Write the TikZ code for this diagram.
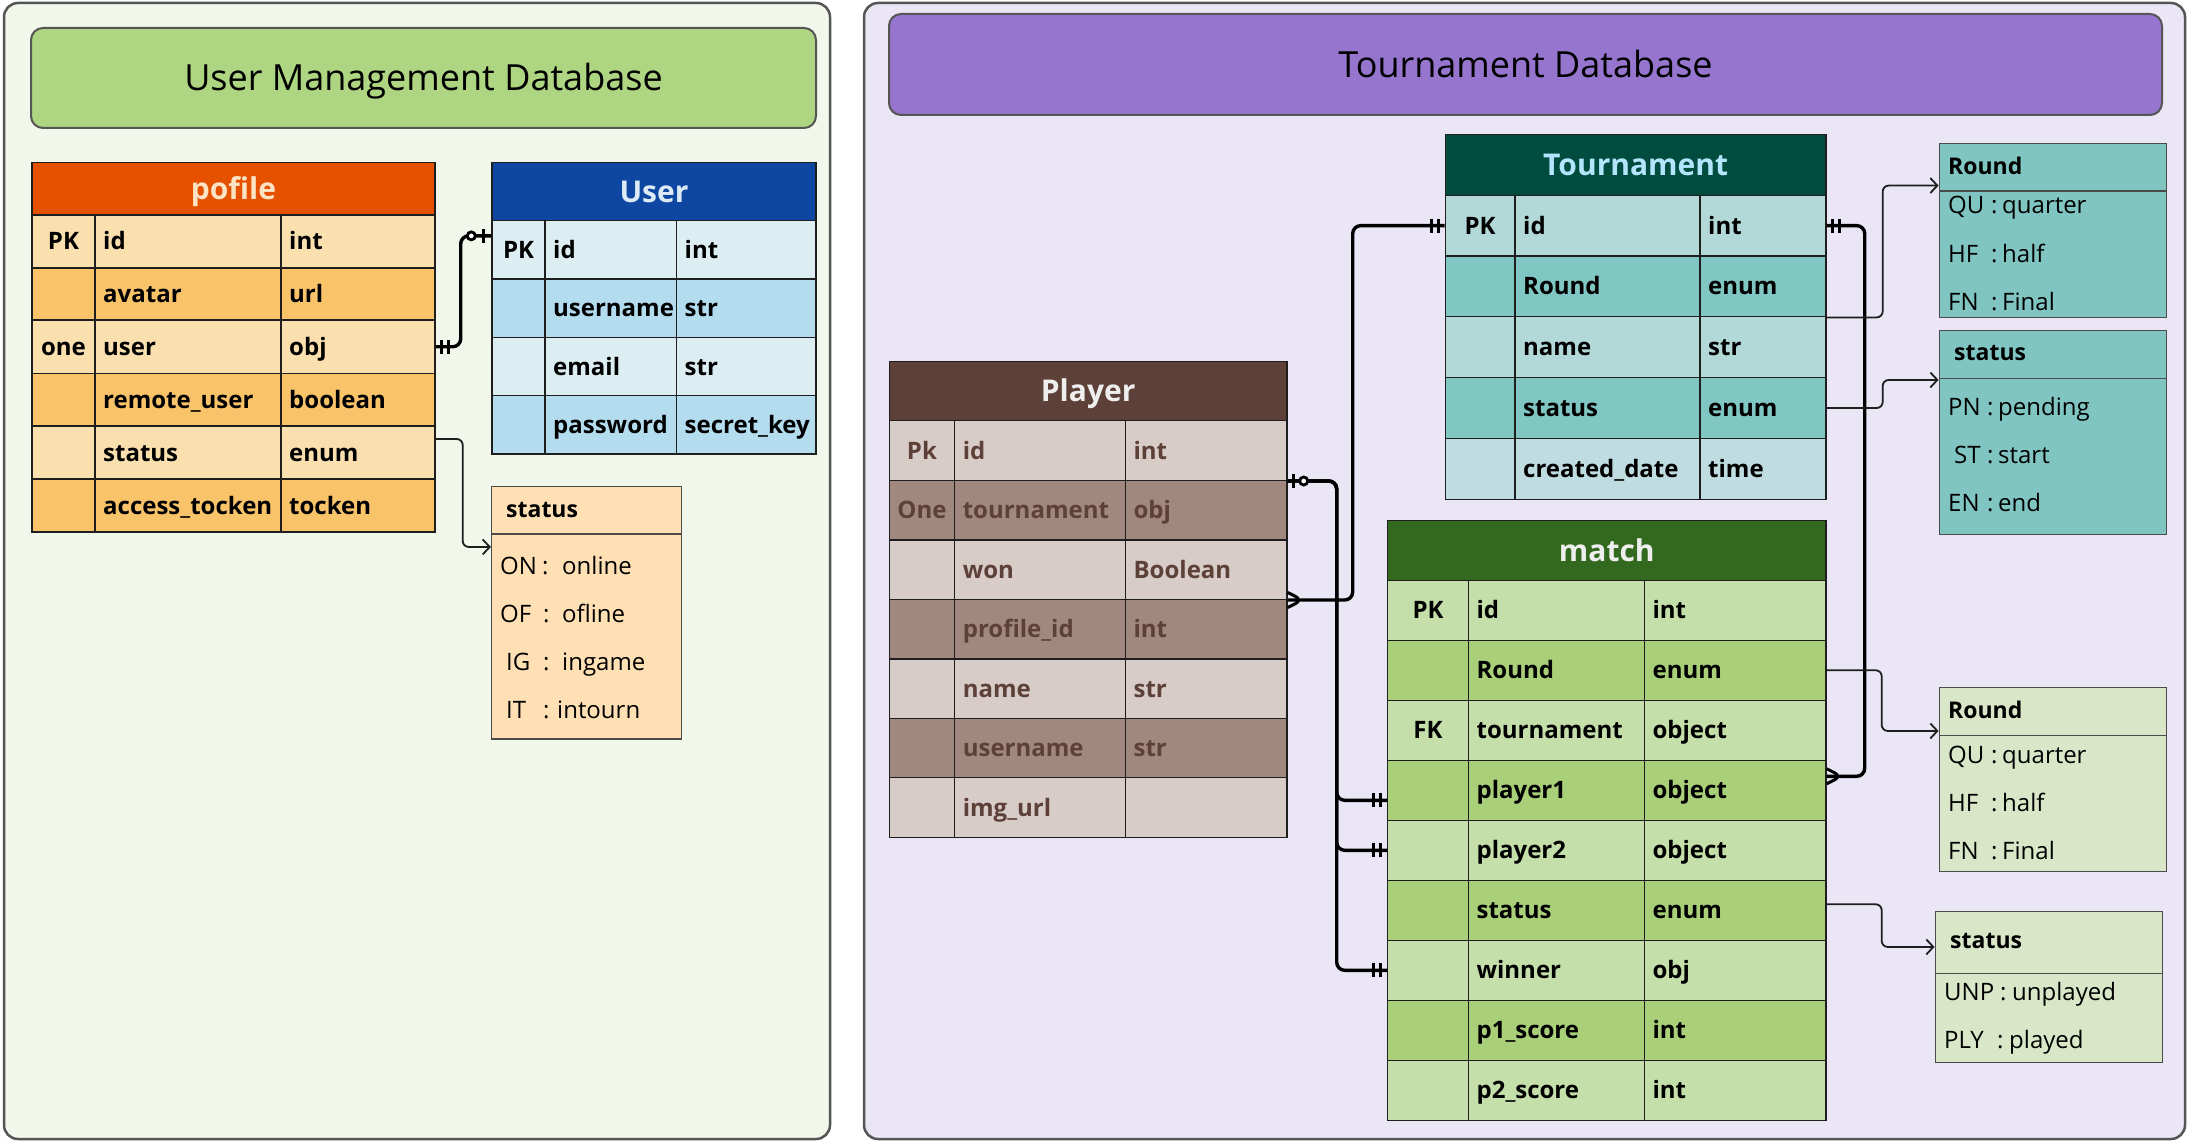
\documentclass[tikz,border=0pt]{standalone}
\usepackage{fontspec}
\setmainfont{Open Sans}
\usetikzlibrary{arrows.meta,decorations.markings,fit,calc}
\definecolor{lbg}{HTML}{F1F7EA}
\definecolor{rbg}{HTML}{EBE6F5}
\definecolor{panelline}{HTML}{555555}
\definecolor{ltitle}{HTML}{AED581}
\definecolor{rtitle}{HTML}{9575CD}
\definecolor{phead}{HTML}{E65100}
\definecolor{pheadtxt}{HTML}{FBE3C4}
\definecolor{plight}{HTML}{F9E0AE}
\definecolor{pdark}{HTML}{F9C36A}
\definecolor{uhead}{HTML}{0D47A1}
\definecolor{uheadtxt}{HTML}{DDEBF7}
\definecolor{ulight}{HTML}{DDEEF3}
\definecolor{udark}{HTML}{B3DCEF}
\definecolor{lstatf}{HTML}{FFE0B5}
\definecolor{plhead}{HTML}{5D4037}
\definecolor{pllight}{HTML}{D7CCC8}
\definecolor{pldark}{HTML}{A1887F}
\definecolor{pltext}{HTML}{5D4037}
\definecolor{thead}{HTML}{004D40}
\definecolor{theadtxt}{HTML}{B3E5FC}
\definecolor{tlight}{HTML}{B2D8D8}
\definecolor{tdark}{HTML}{80C6C2}
\definecolor{tlast}{HTML}{BFDCE0}
\definecolor{tenum}{HTML}{80C5C1}
\definecolor{mhead}{HTML}{33691E}
\definecolor{mlight}{HTML}{C5DFAB}
\definecolor{mdark}{HTML}{A9CF79}
\definecolor{menum}{HTML}{D9E7C8}
\definecolor{headw}{HTML}{EEEEEE}
\definecolor{linec}{HTML}{1E1E1E}

\tikzset{
  panel/.style={draw=panelline, line width=2.5pt, rounded corners=14pt},
  titlebox/.style={draw=panelline, line width=2pt, rounded corners=12pt, inner sep=0pt},
  titletext/.style={font=\fontsize{36}{43}\selectfont, inner sep=0pt, text height=25.5pt, text depth=0pt},
  headtext/.style={font=\bfseries\fontsize{30}{36}\selectfont, inner sep=0pt, text height=21.5pt, text depth=0pt},
  celltext/.style={font=\bfseries\fontsize{24}{28}\selectfont, inner sep=0pt, text height=17pt, text depth=0pt},
  cellline/.style={draw=linec, line width=1.4pt},
  enumhead/.style={font=\bfseries\fontsize{23}{28}\selectfont, inner sep=0pt},
  enumtext/.style={font=\fontsize{24}{28}\selectfont, inner sep=0pt},
  thickc/.style={draw=black, line width=3.4pt, rounded corners=8pt},
  thinc/.style={draw=linec, line width=1.8pt, rounded corners=6pt, -{Straight Barb[length=7pt,width=15pt]}},
  barmark/.style={draw=black, line width=3pt},
  one start/.style={postaction={decorate,decoration={markings,
     mark=at position 6pt with {\draw[barmark] (0,-7) -- (0,7);},
     mark=at position 13pt with {\draw[barmark] (0,-7) -- (0,7);}}}},
  one end/.style={postaction={decorate,decoration={markings,
     mark=at position -6pt with {\draw[barmark] (0,-7) -- (0,7);},
     mark=at position -13pt with {\draw[barmark] (0,-7) -- (0,7);}}}},
  zeroone start/.style={postaction={decorate,decoration={markings,
     mark=at position 6pt with {\draw[barmark] (0,-7) -- (0,7);},
     mark=at position 16pt with {\draw[draw=black, line width=2.8pt, fill=white] (0,0) circle (4pt);}}}},
  zeroone end/.style={postaction={decorate,decoration={markings,
     mark=at position -8pt with {\draw[barmark] (0,-7) -- (0,7);},
     mark=at position -20pt with {\draw[draw=black, line width=2.8pt, fill=white] (0,0) circle (4pt);}}}},
  many start/.style={postaction={decorate,decoration={markings,
     mark=at position 15pt with {\draw[barmark, line join=miter] (-15,-7.5) -- (0,0) -- (-15,7.5);}}}},
  many end/.style={postaction={decorate,decoration={markings,
     mark=at position -15pt with {\draw[barmark, line join=miter] (15,-7.5) -- (0,0) -- (15,7.5);}}}},
}

\def\setcols#1#2#3#4{\def\cA{#1}\def\cB{#2}\def\cC{#3}\def\cD{#4}}
% header: name, ytop, ybot, fill, text colour, title
\newcommand\erhead[6]{%
  \node[fit={(\cA,#2) (\cD,#3)}, inner sep=0pt, fill=#4, draw=linec, line width=1.4pt] (#1) {};
  \node[headtext, text=#5] (#1-t) at (#1.center) {#6};
}
% row: name, ytop, ybot, fill, text colour, key, field, type
\newcommand\errow[8]{%
  \node[fit={(\cA,#2) (\cD,#3)}, inner sep=0pt, fill=#4, cellline] (#1) {};
  \draw[cellline] (\cB,#2) -- (\cB,#3) (\cC,#2) -- (\cC,#3);
  \node[celltext, text=#5] (#1-k) at ({(\cA+\cB)/2},{(#2+#3)/2}) {#6};
  \node[celltext, text=#5, anchor=west] (#1-f) at ({\cB+8},{(#2+#3)/2}) {#7};
  \node[celltext, text=#5, anchor=west] (#1-y) at ({\cC+8},{(#2+#3)/2}) {#8};
}
% enum box: name, x1, y1, x2, y2, ydivider, fill
\newcommand\enumbox[7]{%
  \node[fit={(#2,#3) (#4,#5)}, inner sep=0pt, fill=#7, draw=linec!80, line width=1.5pt] (#1) {};
  \draw[draw=linec!80, line width=1.5pt] (#2,#6) -- (#4,#6);
}
% enum line: name, keyx, colonx, valuex, baseline, key, value
\newcommand\enumline[7]{%
  \node[enumtext, anchor=base west] (#1-k) at (#2,#5) {#6};
  \node[enumtext, anchor=base west] (#1-c) at (#3,#5) {:};
  \node[enumtext, anchor=base west] (#1-v) at (#4,#5) {#7};
}

\begin{document}
\begin{tikzpicture}[x=1pt,y=-1pt]
\useasboundingbox (0,0) rectangle (2188,1142);
\fill[white] (0,0) rectangle (2188,1142);

% panels
\path[panel, fill=lbg] (4,3) rectangle (830,1139);
\path[panel, fill=rbg] (864,3) rectangle (2185,1139);

% titles
\node[titlebox, fill=ltitle, fit={(31,28) (816,128)}] (ltit) {};
\node[titletext] (ltit-t) at (ltit.center) {User Management Database};
\node[titlebox, fill=rtitle, fit={(889,14) (2162,115)}] (rtit) {};
\node[titletext] (rtit-t) at (rtit.center) {Tournament Database};

% pofile
\setcols{32}{95}{281}{435}
\erhead{p}{162.5}{215}{phead}{pheadtxt}{pofile}
\errow{p-id}{215}{268}{plight}{black}{PK}{id}{int}
\errow{p-av}{268}{320}{pdark}{black}{}{avatar}{url}
\errow{p-user}{320}{373.5}{plight}{black}{one}{user}{obj}
\errow{p-ru}{373.5}{426}{pdark}{black}{}{remote\_user}{boolean}
\errow{p-status}{426}{479}{plight}{black}{}{status}{enum}
\errow{p-at}{479}{532}{pdark}{black}{}{access\_tocken}{tocken}

% User
\setcols{492}{545}{676.5}{816}
\erhead{u}{162.5}{220.7}{uhead}{uheadtxt}{User}
\errow{u-id}{220.7}{279}{ulight}{black}{PK}{id}{int}
\errow{u-un}{279}{337.5}{udark}{black}{}{username}{str}
\errow{u-em}{337.5}{395.7}{ulight}{black}{}{email}{str}
\errow{u-pw}{395.7}{454}{udark}{black}{}{password}{secret\_key}

% left status enum
\enumbox{lstat}{491.7}{486.7}{681.7}{739}{534}{lstatf}
\node[enumhead, anchor=base west] (lstat-h) at (506,517) {status};
\enumline{ls1}{500}{542}{562}{574}{ON}{online}
\enumline{ls2}{500}{543}{562}{622}{OF}{ofline}
\enumline{ls3}{506}{543}{562}{670}{IG}{ingame}
\enumline{ls4}{506}{543}{557}{718}{IT}{intourn}

% Player
\setcols{889.3}{954.6}{1125.4}{1287}
\erhead{pl}{361.7}{420.7}{plhead}{headw}{Player}
\errow{pl-id}{420.7}{480.3}{pllight}{pltext}{Pk}{id}{int}
\errow{pl-tour}{480.3}{540}{pldark}{pltext}{One}{tournament}{obj}
\errow{pl-won}{540}{599.3}{pllight}{pltext}{}{won}{Boolean}
\errow{pl-prof}{599.3}{659}{pldark}{pltext}{}{profile\_id}{int}
\errow{pl-name}{659}{718.3}{pllight}{pltext}{}{name}{str}
\errow{pl-un}{718.3}{777.7}{pldark}{pltext}{}{username}{str}
\errow{pl-img}{777.7}{837.3}{pllight}{pltext}{}{img\_url}{}

% Tournament
\setcols{1445.3}{1515}{1700}{1826}
\erhead{t}{134.3}{195.3}{thead}{theadtxt}{Tournament}
\errow{t-id}{195.3}{256}{tlight}{black}{PK}{id}{int}
\errow{t-round}{256}{316.7}{tdark}{black}{}{Round}{enum}
\errow{t-name}{316.7}{377.7}{tlight}{black}{}{name}{str}
\errow{t-status}{377.7}{438.3}{tdark}{black}{}{status}{enum}
\errow{t-cd}{438.3}{499.3}{tlast}{black}{}{created\_date}{time}

% match
\setcols{1387.6}{1468.4}{1644.4}{1826}
\erhead{m}{520.7}{580.3}{mhead}{headw}{match}
\errow{m-id}{580.3}{640.3}{mlight}{black}{PK}{id}{int}
\errow{m-round}{640.3}{700.3}{mdark}{black}{}{Round}{enum}
\errow{m-tour}{700.3}{760.3}{mlight}{black}{FK}{tournament}{object}
\errow{m-p1}{760.3}{820.3}{mdark}{black}{}{player1}{object}
\errow{m-p2}{820.3}{880.3}{mlight}{black}{}{player2}{object}
\errow{m-status}{880.3}{940.3}{mdark}{black}{}{status}{enum}
\errow{m-win}{940.3}{1000.3}{mlight}{black}{}{winner}{obj}
\errow{m-s1}{1000.3}{1060.3}{mdark}{black}{}{p1\_score}{int}
\errow{m-s2}{1060.3}{1120.3}{mlight}{black}{}{p2\_score}{int}

% tournament enums
\enumbox{tround}{1939.3}{143.3}{2166.7}{317.3}{191}{tenum}
\node[enumhead, anchor=base west] (tround-h) at (1948,175) {Round};
\enumline{tr1}{1948}{1991}{2002}{214}{QU}{quarter}
\enumline{tr2}{1948}{1991}{2002}{262}{HF}{half}
\enumline{tr3}{1948}{1991}{2002}{310}{FN}{Final}

\enumbox{tstat}{1939.3}{330.7}{2166.7}{534.3}{378.3}{tenum}
\node[enumhead, anchor=base west] (tstat-h) at (1954,360.7) {status};
\enumline{ts1}{1948}{1987}{1998}{415}{PN}{pending}
\enumline{ts2}{1954}{1987}{1998}{463}{ST}{start}
\enumline{ts3}{1948}{1987}{1998}{511}{EN}{end}

% match enums
\enumbox{mround}{1939.3}{687.7}{2166.7}{871.7}{735.3}{menum}
\node[enumhead, anchor=base west] (mround-h) at (1948,718.3) {Round};
\enumline{mr1}{1948}{1991}{2002}{763}{QU}{quarter}
\enumline{mr2}{1948}{1991}{2002}{811}{HF}{half}
\enumline{mr3}{1948}{1991}{2002}{859}{FN}{Final}

\enumbox{mstat}{1935.3}{911.7}{2162.3}{1062.7}{973.3}{menum}
\node[enumhead, anchor=base west] (mstat-h) at (1950,948.3) {status};
\enumline{ms1}{1944}{2000}{2012}{1000.7}{UNP}{unplayed}
\enumline{ms2}{1944}{1997}{2009}{1048.3}{PLY}{played}

% thick relationship connectors
\draw[thickc, one start, zeroone end] (p-user.east) -- ++(25,0) |- ($(u-id.west)+(0,-14)$);
\draw[thickc, many start, one end] (pl-won.south east) -- ++(65,0) |- (t-id.west);
\draw[thickc, one end] (pl-id.south east) -- ++(49,0) |- (m-win.west);
\draw[thickc, one end] (pl-id.south east) -- ++(49,0) |- (m-p2.west);
\draw[thickc, zeroone start, one end] (pl-id.south east) -- ++(49,0) |- ($(m-p1.west)+(0,10)$);
\draw[thickc, one start, many end] (t-id.east) -- ++(38,0) |- ($(m-p1.east)+(0,-14)$);

% thin enum connectors
\draw[thinc] ($(p-status.east)+(0,-13.5)$) -- ++(27,0) |- ($(lstat.north west)+(0,61)$);
\draw[thinc] (t-round.south east) -- ++(56,0) |- ($(tround.north west)+(0,43)$);
\draw[thinc] (t-status.east) -- ++(56,0) |- ($(tstat.north west)+(0,50)$);
\draw[thinc] (m-round.east) -- ++(55,0) |- ($(mround.north west)+(0,44)$);
\draw[thinc] ($(m-status.east)+(0,-6)$) -- ++(55,0) |- ($(mstat.north west)+(0,36)$);
\end{tikzpicture}
\end{document}
